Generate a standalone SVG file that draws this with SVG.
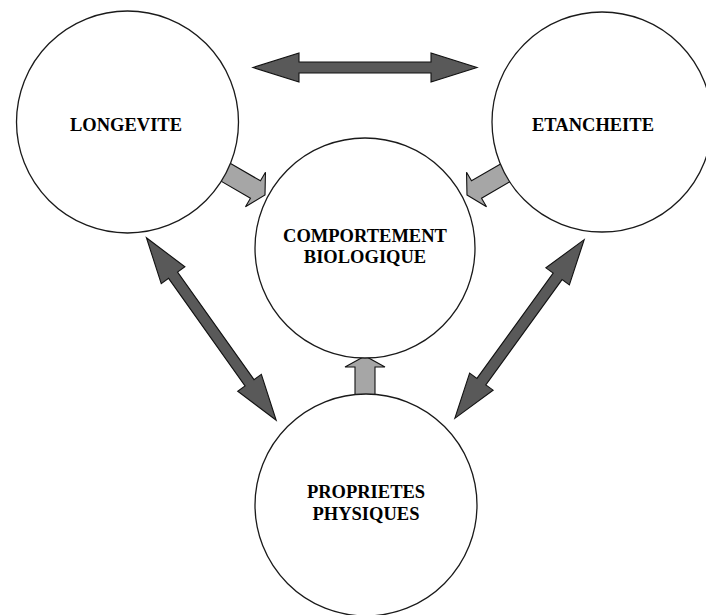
<svg xmlns="http://www.w3.org/2000/svg" xmlns:xlink="http://www.w3.org/1999/xlink" width="706" height="615" viewBox="0 0 706 615">
  <style>
    .node { fill: #ffffff; stroke: #1a1a1a; stroke-width: 1.3; }
    .lbl { font-family: "Liberation Serif", "Times New Roman", serif; font-weight: bold; font-size: 18.5px; fill: #000000; text-anchor: middle; }
    .dbl { fill: #595959; stroke: #111111; stroke-width: 1.1; stroke-linejoin: miter; }
    .one { fill: #a6a6a6; stroke: #111111; stroke-width: 1.1; stroke-linejoin: miter; }
  </style>
  <defs>
    <path id="dblArrow" d="M -112 0 L -66 -14.5 L -66 -5.5 L 66 -5.5 L 66 -14.5 L 112 0 L 66 14.5 L 66 5.5 L -66 5.5 L -66 14.5 Z"/>
    <path id="oneArrow" d="M 0 0 L -11 -20 L -11 -10 L -48 -10 L -48 10 L -11 10 L -11 20 Z"/>
  </defs>
  <rect width="706" height="615" fill="#ffffff"/>
  <g id="connectors">
    <use xlink:href="#dblArrow" class="dbl" transform="translate(365,67.5)"/>
    <use xlink:href="#dblArrow" class="dbl" transform="translate(211.3,329) rotate(54.6)"/>
    <use xlink:href="#dblArrow" class="dbl" transform="translate(519.5,329) rotate(-54.1) scale(0.985,1)"/>
    <use xlink:href="#oneArrow" class="one" transform="translate(265,195) rotate(30)"/>
    <use xlink:href="#oneArrow" class="one" transform="translate(467,195) rotate(150)"/>
    <use xlink:href="#oneArrow" class="one" transform="translate(365,356) rotate(-90)"/>
  </g>
  <g id="node-longevite">
    <circle class="node" cx="127.5" cy="122" r="111"/>
    <text class="lbl" x="126" y="131">LONGEVITE</text>
  </g>
  <g id="node-etancheite">
    <circle class="node" cx="602" cy="122" r="110"/>
    <text class="lbl" x="593" y="131">ETANCHEITE</text>
  </g>
  <g id="node-comportement">
    <circle class="node" cx="365" cy="248" r="110"/>
    <text class="lbl" x="365" y="242">COMPORTEMENT</text>
    <text class="lbl" x="365" y="263">BIOLOGIQUE</text>
  </g>
  <g id="node-proprietes">
    <circle class="node" cx="366" cy="505" r="111"/>
    <text class="lbl" x="366" y="498">PROPRIETES</text>
    <text class="lbl" x="366" y="520">PHYSIQUES</text>
  </g>
</svg>
